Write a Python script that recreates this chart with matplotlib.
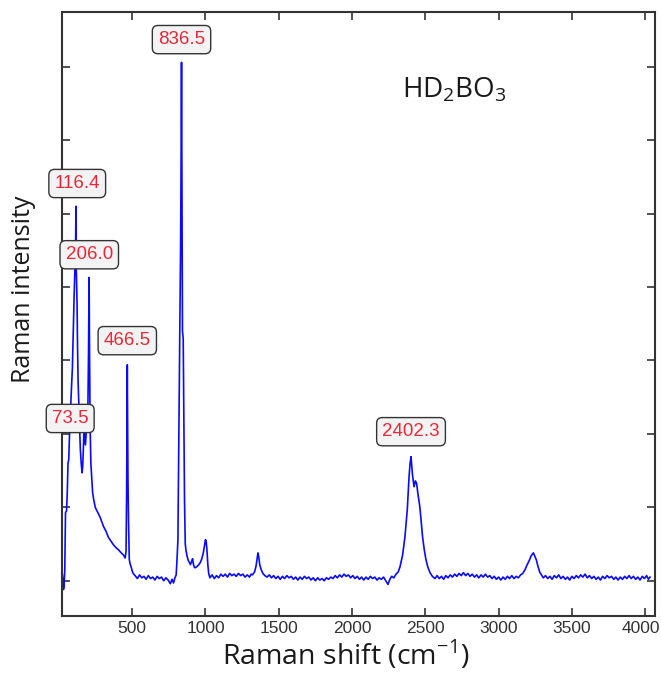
import numpy as np
import matplotlib.pyplot as plt
from matplotlib.transforms import ScaledTranslation

plt.rcParams['mathtext.fontset'] = 'custom'
plt.rcParams['mathtext.rm'] = 'Open Sans'

# Raman spectrum of HD2BO3, shift in cm^-1, intensity in counts
shift = [
    # low-frequency lattice modes
    22, 27, 31, 35, 40, 45, 52, 57, 62, 67, 73.5, 80, 86, 92, 98, 104, 109, 113,
    116.4, 118, 121, 124, 127, 131, 136, 141, 146, 152, 158, 162, 166, 171, 176,
    181, 186, 192, 198, 202, 206, 209, 213, 218, 224, 230, 236, 248, 265, 282,
    293, 304, 320, 338, 355, 372, 390, 407, 425, 441, 452,
    # 466 band
    458, 462, 465, 466.5, 468, 471, 475, 480, 487, 494, 502, 510,
    520, 535, 550, 565, 580, 595, 610, 625, 640, 655, 670, 685, 700, 715, 730,
    745, 760, 772, 782, 790,
    # 836 band and its shoulder
    800, 806, 812, 816, 824, 830, 833, 836.5, 839, 843, 848, 853, 857, 862, 868,
    875, 882, 890, 897, 905, 912, 918, 925, 935, 945, 955, 965, 975, 985, 993,
    1000, 1005, 1010, 1016, 1022,
    1030, 1045, 1060, 1075, 1090, 1105, 1120, 1135, 1150, 1165, 1180, 1195,
    1210, 1225, 1240, 1255, 1270, 1285, 1300, 1312,
    # 1360 band
    1320, 1335, 1345, 1352, 1358, 1364, 1370, 1380, 1392, 1405,
    1420, 1435, 1450, 1465, 1480, 1495, 1510, 1525, 1540, 1555, 1570, 1585,
    1600, 1615, 1630, 1645, 1660, 1675, 1690, 1705, 1720, 1735, 1750, 1765,
    1780, 1795, 1810, 1825, 1840, 1855, 1870, 1885, 1900, 1915, 1930, 1945,
    1960, 1975, 1990, 2005, 2020, 2035, 2050, 2065, 2080, 2095, 2110, 2125,
    2140, 2155, 2170, 2185, 2200, 2215, 2230, 2245, 2258, 2270, 2285, 2300,
    2315,
    # O-D stretching band
    2327, 2345, 2361, 2377, 2389, 2396, 2402.3, 2412, 2423, 2432, 2440, 2452,
    2463, 2472, 2481, 2493, 2504, 2518, 2532, 2548, 2566,
    2580, 2595, 2610, 2625, 2640, 2655, 2670, 2685, 2700, 2715, 2730, 2745,
    2760, 2775, 2790, 2805, 2820, 2835, 2850, 2865, 2880, 2895, 2910, 2925,
    2940, 2955, 2970, 2985, 3000, 3015, 3030, 3045, 3060, 3075, 3090, 3105,
    3120, 3135, 3150,
    # 3240 band
    3165, 3180, 3195, 3210, 3222, 3237, 3248, 3258, 3268, 3280, 3292, 3305,
    3320, 3335, 3350, 3365, 3380, 3395, 3410, 3425, 3440, 3455, 3470, 3485,
    3500, 3515, 3530, 3545, 3560, 3575, 3590, 3605, 3620, 3635, 3650, 3665,
    3680, 3695, 3710, 3725, 3740, 3755, 3770, 3785, 3800, 3815, 3830, 3845,
    3860, 3875, 3890, 3905, 3920, 3935, 3950, 3965, 3980, 3995, 4010, 4022,
    4033,
]

intensity = [
    110, 20, -120, -80, 150, 930, 950, 1200, 1600, 1650, 2060, 2370, 2640, 2900,
    3400, 3900, 4240, 4400,
    5100, 4300, 4000, 3750, 3200, 2700, 2400, 2100, 1800, 1600, 1470, 1550,
    1750, 2060, 1950, 1850, 2000, 2100, 2400, 3100, 4130, 3100, 2100, 1600,
    1400, 1200, 1120, 1000, 930, 860, 800, 740, 680, 590, 540, 490, 450, 420,
    380, 350, 310,
    400, 1200, 2500, 2940, 2400, 1420, 800, 290, 220, 180, 120, 90,
    70, 30, 80, 40, 60, 20, 70, 30, 50, 10, 60, 30, 50, 0, 40,
    10, -40, 20, -30, 30,
    80, 300, 560, 1510, 3240, 4500, 5500, 7060, 5780, 3400, 3300, 2000, 1100,
    500, 400, 330, 280, 250, 220, 260, 300, 220, 180, 180, 200, 220, 250, 300,
    380, 480,
    560, 530, 420, 220, 100,
    40, 80, 30, 70, 40, 90, 60, 90, 50, 100, 70, 90,
    60, 100, 70, 90, 50, 80, 50, 90,
    80, 120, 200, 300, 380, 320, 220, 150, 100, 70,
    50, 80, 40, 70, 30, 60, 20, 60, 30, 70, 40, 60,
    20, 50, 10, 50, 20, 60, 30, 50, 10, 40, 0, 40,
    10, 30, 0, 40, 20, 50, 30, 70, 40, 80, 50, 90,
    60, 80, 40, 70, 30, 60, 20, 50, 10, 50, 20, 60,
    30, 50, 10, 40, 20, 50, 0, -50, 20, 60, 40, 90,
    120,
    190, 350, 600, 970, 1420, 1600, 1690, 1450, 1280, 1360, 1330, 1150,
    1000, 800, 600, 420, 290, 180, 110, 60, 30,
    70, 30, 60, 20, 70, 40, 80, 50, 90, 60, 100, 70,
    110, 70, 100, 60, 90, 50, 80, 40, 80, 50, 90, 50,
    70, 30, 60, 20, 50, 10, 50, 20, 60, 30, 70, 30,
    60, 40, 80,
    100, 150, 220, 280, 340, 380, 330, 280, 200, 120, 80, 40,
    70, 30, 60, 20, 70, 40, 80, 30, 60, 20, 50, 10,
    60, 30, 70, 40, 80, 50, 90, 40, 70, 30, 60, 20,
    50, 10, 60, 30, 70, 40, 60, 20, 50, 10, 50, 20,
    60, 30, 70, 30, 60, 20, 50, 10, 60, 30, 70, 20,
    50,
]

# peak tags: text, x of the tag centre, height of the tag
peak_tags = ['73.5', '116.4', '206.0', '466.5', '836.5', '2402.3']
tag_xpos = [77, 125, 207, 466.5, 836.5, 2402.3]
tag_height = [2210, 5410, 4440, 3270, 7370, 2030]

fig = plt.figure(figsize=(6.61, 6.78), dpi=100)
ax = fig.add_axes([61.7 / 661, 1 - 616 / 678, 593.3 / 661, 604.3 / 678])

ax.plot(shift, intensity, color='#0a0aff', lw=1.2)

for tag, xt, y in zip(peak_tags, tag_xpos, tag_height):
    ax.text(xt, y, tag, ha='center', va='center', fontsize=13.5,
            family='Liberation Sans', color='#e8283a',
            bbox=dict(boxstyle='round,pad=0.3,rounding_size=0.3',
                      fc='#f3f3f3', ec='#333333', lw=1.0))

ax.text(0.574, 0.859, 'HD$_2$BO$_3$', transform=ax.transAxes,
        fontsize=20, family='Open Sans', color='#1a1a1a', va='baseline')

ax.set_xlim(19, 4067)
ax.set_ylim(-480, 7750)
ax.set_xticks([500, 1000, 1500, 2000, 2500, 3000, 3500, 4000])
ax.set_yticks(np.arange(0, 8000, 1000))
ax.set_yticklabels([])
ax.tick_params(direction='in', top=True, right=True, length=6, width=1.2,
               color='#333333', labelsize=12.5, labelcolor='#333333')
xlabels = ax.get_xticklabels()
for lbl in xlabels:
    lbl.set_family('Liberation Sans')
# nudge the last label so it stays inside the canvas
xlabels[-1].set_transform(xlabels[-1].get_transform() +
                          ScaledTranslation(-4 / 100, 0, fig.dpi_scale_trans))
for sp in ax.spines.values():
    sp.set_color('#333333')
    sp.set_linewidth(1.5)

ax.set_xlabel('Raman shift (cm$^{-1}$)', fontsize=20.5, family='Open Sans',
              color='#1a1a1a')
ax.xaxis.set_label_coords(0.479, -0.038)
ax.xaxis.label.set_va('top')
ax.set_ylabel('Raman intensity', fontsize=18, family='Open Sans',
              color='#1a1a1a')
ax.yaxis.set_label_coords(-0.043, 0.54)

fig.savefig('out.png', dpi=100)
